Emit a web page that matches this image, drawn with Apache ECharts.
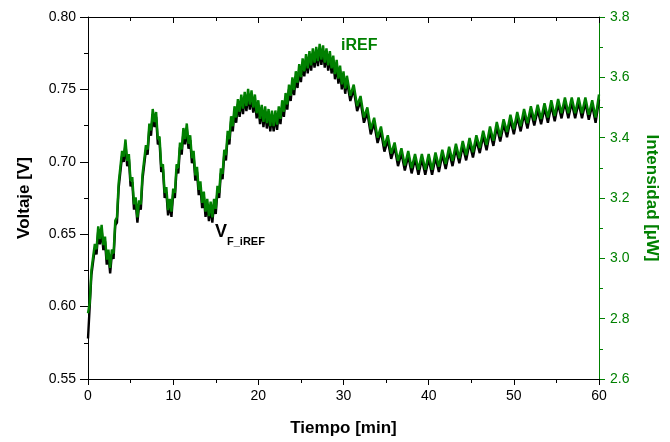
<!DOCTYPE html>
<html>
<head>
<meta charset="utf-8">
<script src="https://cdn.jsdelivr.net/npm/echarts@6/dist/echarts.min.js"></script>
<style>
html,body{margin:0;padding:0;background:#fff;}
#chart{width:670px;height:442px;}
</style>
</head>
<body>
<div id="chart"></div>
<script>
// Time [min]
var time = [
0,0.2,0.4,0.6,0.8,1,1.2,1.4,1.6,1.8,
2,2.2,2.4,2.6,2.8,3,3.2,3.4,3.6,3.8,
4,4.2,4.4,4.6,4.8,5,5.2,5.4,5.6,5.8,
6,6.2,6.4,6.6,6.8,7,7.2,7.4,7.6,7.8,
8,8.2,8.4,8.6,8.8,9,9.2,9.4,9.6,9.8,
10,10.2,10.4,10.6,10.8,11,11.2,11.4,11.6,11.8,
12,12.2,12.4,12.6,12.8,13,13.2,13.4,13.6,13.8,
14,14.2,14.4,14.6,14.8,15,15.2,15.4,15.6,15.8,
16,16.2,16.4,16.6,16.8,17,17.2,17.4,17.6,17.8,
18,18.2,18.4,18.6,18.8,19,19.2,19.4,19.6,19.8,
20,20.2,20.4,20.6,20.8,21,21.2,21.4,21.6,21.8,
22,22.2,22.4,22.6,22.8,23,23.2,23.4,23.6,23.8,
24,24.2,24.4,24.6,24.8,25,25.2,25.4,25.6,25.8,
26,26.2,26.4,26.6,26.8,27,27.2,27.4,27.6,27.8,
28,28.2,28.4,28.6,28.8,29,29.2,29.4,29.6,29.8,
30,30.2,
30.4,30.8,31.2,31.6,
32,32.4,32.8,33.2,33.6,34,34.4,34.8,35.2,35.6,
36,36.4,36.8,37.2,37.6,38,38.4,38.8,39.2,39.6,
40,40.4,40.8,41.2,41.6,42,42.4,42.8,43.2,43.6,
44,44.4,44.8,45.2,45.6,46,46.4,46.8,47.2,47.6,
48,48.4,48.8,49.2,49.6,50,50.4,50.8,51.2,51.6,
52,52.4,52.8,53.2,53.6,54,54.4,54.8,55.2,55.6,
56,56.4,56.8,57.2,57.6,58,58.4,58.8,59.2,59.6,
60];

// Voltaje V_F_iREF [V] (black, left axis)
var voltage = [
0.578,0.600,0.622,0.621,0.640,0.636,0.652,0.643,0.653,0.639,
0.645,0.629,0.636,0.623,0.636,0.633,0.656,0.658,0.682,0.683,
0.704,0.700,0.712,0.697,0.702,0.683,0.686,0.667,0.672,0.658,
0.670,0.667,0.688,0.688,0.708,0.705,0.723,0.718,0.733,0.724,
0.731,0.712,0.714,0.693,0.695,0.675,0.679,0.663,0.671,0.662,
0.678,0.675,0.695,0.692,0.710,0.705,0.720,0.712,0.723,0.709,
0.715,0.699,0.704,0.687,0.693,0.677,0.683,0.668,0.676,0.662,
0.671,0.659,0.669,0.658,0.671,0.664,0.680,0.675,0.692,0.688,
0.705,0.701,0.718,0.712,0.728,0.721,0.735,0.727,0.740,0.731,
0.743,0.733,0.745,0.735,0.747,0.736,0.746,0.734,0.743,0.730,
0.739,0.726,0.736,0.724,0.735,0.723,0.733,0.721,0.732,0.721,
0.732,0.722,0.735,0.726,0.739,0.731,0.744,0.736,0.750,0.742,
0.755,0.746,0.759,0.751,0.764,0.755,0.768,0.759,0.771,0.761,
0.773,0.763,0.775,0.765,0.776,0.766,0.778,0.767,0.777,0.765,
0.775,0.763,0.773,0.761,0.770,0.757,0.767,0.754,0.763,0.750,
0.759,0.747,
0.756,0.742,0.750,0.735,
0.742,0.727,0.734,0.719,0.727,0.713,0.721,0.707,0.715,0.702,
0.710,0.697,0.706,0.694,0.704,0.692,0.702,0.691,0.702,0.691,
0.702,0.691,0.703,0.693,0.705,0.695,0.707,0.697,0.709,0.699,
0.711,0.701,0.713,0.703,0.715,0.706,0.718,0.708,0.721,0.711,
0.724,0.714,0.726,0.717,0.729,0.719,0.731,0.721,0.733,0.723,
0.735,0.725,0.736,0.726,0.737,0.727,0.739,0.728,0.740,0.730,
0.741,0.730,0.741,0.730,0.741,0.730,0.741,0.729,0.739,0.727,
0.743];

// Intensidad iREF [µW] (green, right axis)
var intensity = [
2.818,2.852,2.962,2.958,3.048,3.030,3.106,3.064,3.111,3.044,
3.072,2.996,3.029,2.968,3.029,3.016,3.125,3.136,3.250,3.256,
3.356,3.337,3.394,3.323,3.346,3.256,3.269,3.179,3.202,3.136,
3.192,3.179,3.279,3.280,3.375,3.361,3.447,3.424,3.495,3.452,
3.485,3.395,3.404,3.304,3.312,3.217,3.236,3.160,3.197,3.155,
3.231,3.217,3.312,3.299,3.384,3.361,3.432,3.395,3.447,3.380,
3.408,3.332,3.356,3.275,3.303,3.227,3.255,3.184,3.221,3.155,
3.197,3.140,3.188,3.136,3.197,3.164,3.240,3.217,3.298,3.280,
3.360,3.342,3.423,3.395,3.471,3.438,3.504,3.467,3.528,3.486,
3.543,3.496,3.552,3.505,3.562,3.510,3.557,3.500,3.543,3.481,
3.524,3.462,3.509,3.452,3.504,3.448,3.495,3.438,3.490,3.438,
3.490,3.443,3.504,3.462,3.524,3.486,3.548,3.510,3.576,3.539,
3.600,3.558,3.620,3.582,3.644,3.601,3.663,3.620,3.677,3.630,
3.687,3.640,3.696,3.649,3.701,3.654,3.711,3.659,3.706,3.649,
3.696,3.640,3.687,3.630,3.672,3.611,3.658,3.596,3.639,3.577,
3.620,3.563,
3.605,3.539,3.576,3.505,
3.538,3.467,3.500,3.428,3.466,3.400,3.437,3.371,3.408,3.347,
3.384,3.323,3.365,3.308,3.356,3.299,3.346,3.294,3.346,3.294,
3.346,3.294,3.351,3.304,3.360,3.313,3.370,3.323,3.380,3.332,
3.389,3.342,3.399,3.352,3.408,3.366,3.423,3.376,3.437,3.390,
3.452,3.404,3.461,3.419,3.476,3.428,3.485,3.438,3.495,3.448,
3.504,3.457,3.509,3.462,3.514,3.467,3.524,3.472,3.528,3.481,
3.533,3.481,3.533,3.481,3.533,3.481,3.533,3.476,3.524,3.467,
3.543];

var xTicks = [0, 10, 20, 30, 40, 50, 60];
var leftTicks = [0.55, 0.60, 0.65, 0.70, 0.75, 0.80];
var rightTicks = [2.6, 2.8, 3.0, 3.2, 3.4, 3.6, 3.8];

var FONT = 'Arial, "Liberation Sans", sans-serif';
var GREEN = '#008000';

var chart = echarts.init(document.getElementById('chart'), null, {renderer: 'canvas'});

var option = {
  animation: false,
  backgroundColor: '#ffffff',
  grid: {left: 88, right: 71, top: 17, bottom: 57, containLabel: false},
  xAxis: [{
    type: 'value', position: 'bottom',
    min: xTicks[0], max: xTicks[xTicks.length - 1], interval: 10,
    name: 'Tiempo [min]', nameLocation: 'middle', nameGap: 41,
    nameTextStyle: {fontFamily: FONT, fontSize: 17, fontWeight: 'bold', color: '#000'},
    axisLine: {onZero: false, lineStyle: {color: '#000', width: 1}},
    axisTick: {show: true, inside: false, length: 6, lineStyle: {color: '#000'}},
    minorTick: {show: true, splitNumber: 2, length: 4, lineStyle: {color: '#000'}},
    axisLabel: {fontFamily: FONT, fontSize: 14, color: '#000', margin: 10},
    splitLine: {show: false}
  }, {
    type: 'value', position: 'top',
    min: xTicks[0], max: xTicks[xTicks.length - 1], interval: 10,
    axisLine: {onZero: false, lineStyle: {color: '#000', width: 1}},
    axisTick: {show: true, inside: true, length: 6, lineStyle: {color: '#000'}},
    minorTick: {show: true, splitNumber: 2, length: 4, lineStyle: {color: '#000'}},
    axisLabel: {show: false},
    splitLine: {show: false}
  }],
  yAxis: [{
    type: 'value', position: 'left',
    min: leftTicks[0], max: leftTicks[leftTicks.length - 1], interval: 0.05,
    name: 'Voltaje [V]', nameLocation: 'middle', nameGap: 55,
    nameTextStyle: {fontFamily: FONT, fontSize: 17, fontWeight: 'bold', color: '#000'},
    axisLine: {show: true, onZero: false, lineStyle: {color: '#000', width: 1}},
    axisTick: {show: true, inside: false, length: 8, lineStyle: {color: '#000'}},
    minorTick: {show: true, splitNumber: 2, length: 4, lineStyle: {color: '#000'}},
    axisLabel: {fontFamily: FONT, fontSize: 14, color: '#000', margin: 12,
      formatter: function (v) { return v.toFixed(2); }},
    splitLine: {show: false}
  }, {
    type: 'value', position: 'right',
    min: rightTicks[0], max: rightTicks[rightTicks.length - 1], interval: 0.2,
    name: 'Intensidad [µW]', nameLocation: 'middle', nameGap: 44, nameRotate: -90,
    nameTextStyle: {fontFamily: FONT, fontSize: 17, fontWeight: 'bold', color: GREEN},
    axisLine: {show: true, onZero: false, lineStyle: {color: GREEN, width: 1}},
    axisTick: {show: true, inside: false, length: 6, lineStyle: {color: GREEN}},
    minorTick: {show: true, splitNumber: 2, length: 4, lineStyle: {color: GREEN}},
    axisLabel: {fontFamily: FONT, fontSize: 14, color: GREEN, margin: 11,
      formatter: function (v) { return v.toFixed(1); }},
    splitLine: {show: false}
  }],
  series: [{
    name: 'V_F_iREF', type: 'line', xAxisIndex: 0, yAxisIndex: 0,
    data: time.map(function (t, i) { return [t, voltage[i]]; }),
    symbol: 'none', smooth: false,
    lineStyle: {color: '#000', width: 2.4},
    z: 2
  }, {
    name: 'iREF', type: 'line', xAxisIndex: 0, yAxisIndex: 1,
    data: time.map(function (t, i) { return [t, intensity[i]]; }),
    symbol: 'none', smooth: false,
    lineStyle: {color: GREEN, width: 2.4},
    z: 3
  }],
  graphic: [{
    type: 'text', left: 341, top: 38, z: 10,
    style: {text: 'iREF', fill: GREEN, font: 'bold 16px ' + FONT}
  }, {
    type: 'text', left: 215, top: 223, z: 10,
    style: {text: 'V', fill: '#000', font: 'bold 18px ' + FONT}
  }, {
    type: 'text', left: 227, top: 236, z: 10,
    style: {text: 'F_iREF', fill: '#000', font: 'bold 11px ' + FONT}
  }]
};

chart.setOption(option);
</script>
</body>
</html>
